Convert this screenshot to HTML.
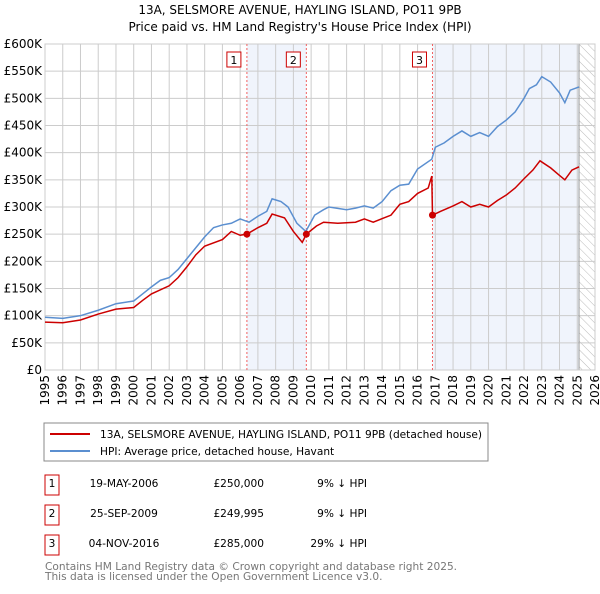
<!DOCTYPE html>
<html><head><meta charset="utf-8"><style>
body{margin:0;background:#fff;width:600px;height:590px;overflow:hidden;font-family:"DejaVu Sans","Liberation Sans",sans-serif;}
svg text{font-family:"DejaVu Sans","Liberation Sans",sans-serif;}
</style></head><body>
<svg id="c" width="600" height="590" xmlns="http://www.w3.org/2000/svg">
<text x="300" y="14" text-anchor="middle" font-size="12">13A, SELSMORE AVENUE, HAYLING ISLAND, PO11 9PB</text>
<text x="300" y="31" text-anchor="middle" font-size="12">Price paid vs. HM Land Registry's House Price Index (HPI)</text>
<g id="plot"></g>
<rect x="44" y="423" width="444" height="38" fill="#fff" stroke="#888"/>
<line x1="50" y1="434" x2="90" y2="434" stroke="#cc0000" stroke-width="2"/>
<text x="100" y="438" font-size="10.6">13A, SELSMORE AVENUE, HAYLING ISLAND, PO11 9PB (detached house)</text>
<line x1="50" y1="451" x2="90" y2="451" stroke="#5b8fd0" stroke-width="2"/>
<text x="100" y="455" font-size="10.6">HPI: Average price, detached house, Havant</text>
<g font-size="10.6">
<rect x="45" y="475" width="14" height="20" fill="none" stroke="#cc0000"/><text x="52" y="487" text-anchor="middle">1</text>
<text x="124" y="487" text-anchor="middle">19-MAY-2006</text><text x="264" y="487" text-anchor="end">£250,000</text><text x="367" y="487" text-anchor="end">9% ↓ HPI</text>
<rect x="45" y="505" width="14" height="20" fill="none" stroke="#cc0000"/><text x="52" y="517" text-anchor="middle">2</text>
<text x="124" y="517" text-anchor="middle">25-SEP-2009</text><text x="264" y="517" text-anchor="end">£249,995</text><text x="367" y="517" text-anchor="end">9% ↓ HPI</text>
<rect x="45" y="535" width="14" height="20" fill="none" stroke="#cc0000"/><text x="52" y="547" text-anchor="middle">3</text>
<text x="124" y="547" text-anchor="middle">04-NOV-2016</text><text x="264" y="547" text-anchor="end">£285,000</text><text x="367" y="547" text-anchor="end">29% ↓ HPI</text>
</g>
<text x="45" y="570" font-size="10.6" fill="#777">Contains HM Land Registry data © Crown copyright and database right 2025.</text>
<text x="45" y="580" font-size="10.6" fill="#777">This data is licensed under the Open Government Licence v3.0.</text>
</svg>
<script>
const hpiYears=[1995,1996,1997,1998,1999,2000,2000.5,2001,2001.5,2002,2002.5,2003,2003.5,2004,2004.5,2005,2005.5,2006,2006.5,2007,2007.5,2007.8,2008.3,2008.7,2009.2,2009.7,2010.2,2010.7,2011,2012,2012.5,2013,2013.5,2014,2014.5,2015,2015.5,2016,2016.8,2017,2017.5,2018,2018.5,2019,2019.5,2020,2020.5,2021,2021.5,2022,2022.3,2022.7,2023,2023.5,2024,2024.3,2024.6,2025.1];
const hpiValues=[97,95,100,110,122,127,140,153,165,170,185,205,225,245,262,267,270,278,272,283,292,315,310,300,270,255,285,295,300,295,298,302,298,310,330,340,342,370,388,410,418,430,440,430,437,430,448,460,475,500,518,525,540,530,510,492,515,521];
const propYears=[1995,1996,1997,1998,1999,2000,2000.5,2001,2002,2002.5,2003,2003.5,2004,2005,2005.5,2006,2006.38,2007,2007.5,2007.8,2008.5,2009,2009.5,2009.73,2010.3,2010.7,2011.5,2012.5,2013,2013.5,2014.5,2015,2015.5,2016,2016.6,2016.8,2016.84,2017.3,2018,2018.5,2019,2019.5,2020,2020.5,2021,2021.5,2022,2022.5,2022.9,2023.5,2024,2024.3,2024.7,2025.1];
const propValues=[88,87,92,103,112,115,128,140,155,170,190,212,228,240,255,248,250,262,270,287,280,255,235,250,265,272,270,272,278,272,285,305,310,325,335,357,285,292,302,310,300,305,300,312,322,335,352,368,385,372,358,350,368,374];
const saleYears=[2006.38,2009.73,2016.84];
const salePrices=[250,249.995,285];
const saleLabels=["1","2","3"];
const yTicks=[0,50,100,150,200,250,300,350,400,450,500,550,600];
const yTickLabels=["£0","£50K","£100K","£150K","£200K","£250K","£300K","£350K","£400K","£450K","£500K","£550K","£600K"];
const xTicks=[1995,1996,1997,1998,1999,2000,2001,2002,2003,2004,2005,2006,2007,2008,2009,2010,2011,2012,2013,2014,2015,2016,2017,2018,2019,2020,2021,2022,2023,2024,2025,2026];
const X0=45,X1=595,Y0=370,Y1=44,dataEnd=2025.1;
const xs=y=>X0+(y-1995)/(2026-1995)*(X1-X0);
const ys=v=>Y0-v/600*(Y0-Y1);
const NS="http://www.w3.org/2000/svg",g=document.getElementById('plot');
function mk(t,a){const e=document.createElementNS(NS,t);for(const k in a)e.setAttribute(k,a[k]);g.appendChild(e);return e;}
let s=mk('rect',{x:xs(saleYears[0]),y:Y1,width:xs(saleYears[1])-xs(saleYears[0]),height:Y0-Y1,fill:'#f0f4fc'});


s=mk('rect',{x:xs(saleYears[2]),y:Y1,width:xs(dataEnd)-xs(saleYears[2]),height:Y0-Y1,fill:'#f0f4fc'});


const defs=mk('defs',{});
defs.innerHTML='<pattern id="h" width="6" height="6" patternUnits="userSpaceOnUse" patternTransform="rotate(-45)"><line x1="0" y1="0" x2="0" y2="6" stroke="#bbb" stroke-width="1"/></pattern>';
s=mk('rect',{x:xs(dataEnd),y:Y1,width:X1-xs(dataEnd),height:Y0-Y1,fill:'url(#h)'});


yTicks.forEach((v,i)=>{
 const l=mk('line',{x1:X0,x2:X1,y1:ys(v),y2:ys(v),stroke:'#ccc'});
 
 
 const t=mk('text',{x:X0-3,y:ys(v)+4,'text-anchor':'end','font-size':'12'});t.textContent=yTickLabels[i];
 
 
});
xTicks.forEach(y=>{
 const l=mk('line',{x1:xs(y),x2:xs(y),y1:Y1,y2:Y0,stroke:'#ccc'});
 
 
 const t=mk('text',{x:0,y:0,'font-size':'12','text-anchor':'end',transform:`translate(${xs(y)+4},375) rotate(-90)`});t.textContent=y;
 
 
});
const ed=mk('line',{x1:xs(dataEnd),x2:xs(dataEnd),y1:Y1,y2:Y0,stroke:'#999'});


const fr=mk('rect',{x:X0,y:Y1,width:X1-X0,height:Y0-Y1,fill:'none',stroke:'#ccc'});


saleYears.forEach((y,i)=>{
 const l=mk('line',{x1:xs(y),x2:xs(y),y1:Y1,y2:Y0,stroke:'#f06060','stroke-dasharray':'2,2'});
 
 
 const r=mk('rect',{x:xs(y)-20,y:52,width:14,height:15,fill:'#fff',stroke:'#cc0000'});
 
 
 const t=mk('text',{x:xs(y)-13,y:64,'text-anchor':'middle','font-size':'11'});t.textContent=saleLabels[i];
 
 
});
let p=mk('polyline',{points:hpiYears.map((y,i)=>xs(y)+','+ys(hpiValues[i])).join(' '),fill:'none',stroke:'#5b8fd0','stroke-width':1.5});


p=mk('polyline',{points:propYears.map((y,i)=>xs(y)+','+ys(propValues[i])).join(' '),fill:'none',stroke:'#cc0000','stroke-width':1.5});


saleYears.forEach((y,i)=>{
 const c=mk('circle',{cx:xs(y),cy:ys(salePrices[i]),r:3.5,fill:'#cc0000'});
 
 
});
</script>
</body></html>
